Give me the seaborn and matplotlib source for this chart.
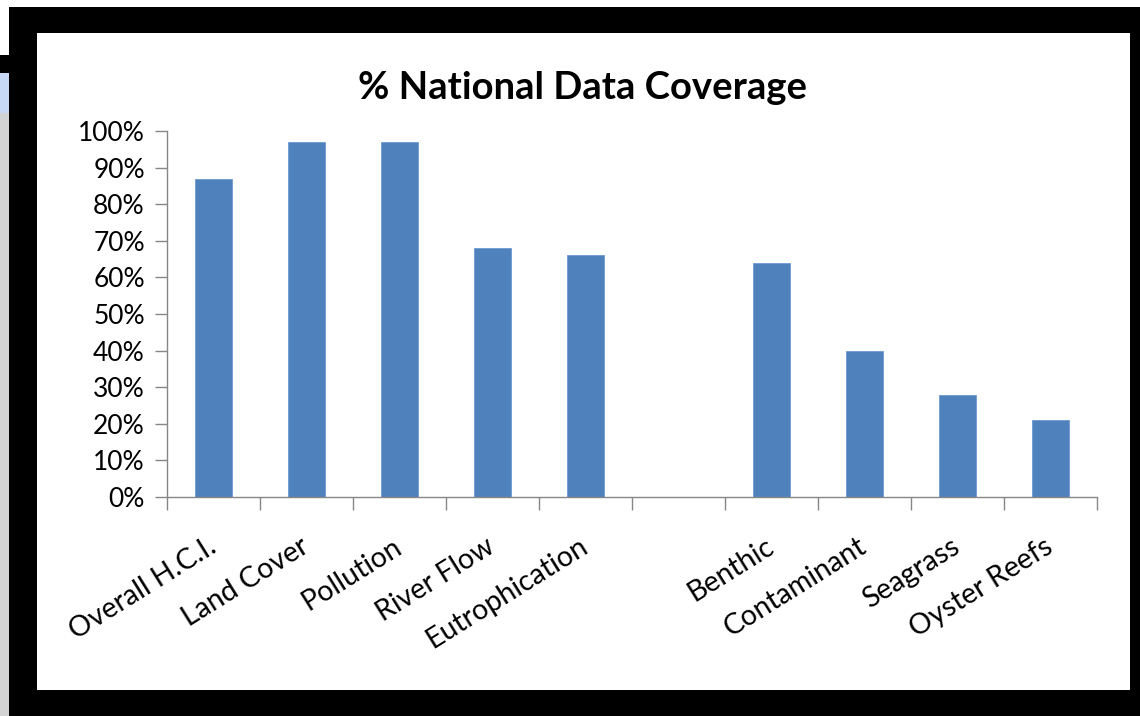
import numpy as np
import pandas as pd
import matplotlib
matplotlib.use("Agg")
import matplotlib.pyplot as plt
from matplotlib.patches import Rectangle
from matplotlib.ticker import PercentFormatter, MultipleLocator, FixedLocator
import seaborn as sns

# data (blank slot between Eutrophication and Benthic)
categories = ["Overall H.C.I.", "Land Cover", "Pollution", "River Flow", "Eutrophication",
              "", "Benthic", "Contaminant", "Seagrass", "Oyster Reefs"]
coverage = [0.87, 0.97, 0.97, 0.68, 0.66, np.nan, 0.64, 0.40, 0.28, 0.21]
title = "% National Data Coverage"

bar_color = "#4F81BD"
axis_gray = "#868686"

sns.set_theme(style="white")
plt.rcParams['font.family'] = ['Lato', 'DejaVu Sans']

W, H = 1140, 716
fig = plt.figure(figsize=(W / 100, H / 100), dpi=100)
fig.patch.set_facecolor("white")


def px_rect(x0, y0, x1, y1, color):
    # rectangle given in pixel coords (top-left origin)
    fig.add_artist(Rectangle((x0 / W, 1 - y1 / H), (x1 - x0) / W, (y1 - y0) / H,
                             transform=fig.transFigure, facecolor=color,
                             edgecolor="none", zorder=-10))


# screenshot frame around the chart
px_rect(0, 73, 9, 113, "#c6d8f5")
px_rect(0, 113, 9, 716, "#d3d3d3")
px_rect(0, 55, 9, 73, "black")
px_rect(9, 7, 1140, 716, "black")
px_rect(37, 33, 1130, 690, "white")

ax = fig.add_axes([167 / W, 1 - 497 / H, (1097 - 167) / W, (497 - 131) / H])
ax.set_facecolor("none")

df = pd.DataFrame({"category": categories, "coverage": coverage})
df["pos"] = range(len(df))
sns.barplot(data=df, x="pos", y="coverage", color=bar_color, width=0.4,
            saturation=1, edgecolor="#6d9ad0", linewidth=0.6, ax=ax)

ax.set_xlim(-0.5, len(categories) - 0.5)
ax.set_ylim(0, 1)
ax.yaxis.set_major_locator(MultipleLocator(0.1))
ax.yaxis.set_major_formatter(PercentFormatter(1.0, decimals=0))

# labels at category centres, tick marks at category boundaries
ax.set_xticks(range(len(categories)))
ax.set_xticklabels(categories, rotation=32, ha="right", va="center",
                   rotation_mode="anchor", fontsize=20.5, color="black")
ax.xaxis.set_minor_locator(FixedLocator(np.arange(-0.5, len(categories), 1)))
ax.tick_params(axis="x", which="major", length=0, pad=34)
ax.tick_params(axis="x", which="minor", length=9, width=1, color=axis_gray, direction="out")
ax.tick_params(axis="y", length=9, width=1, color=axis_gray, direction="out",
               labelsize=19, labelcolor="black", pad=7)
ax.xaxis.set_ticks_position("bottom")
ax.yaxis.set_ticks_position("left")

for side in ["top", "right"]:
    ax.spines[side].set_visible(False)
for side in ["left", "bottom"]:
    ax.spines[side].set_color(axis_gray)
    ax.spines[side].set_linewidth(1)

ax.set_xlabel("")
ax.set_ylabel("")
fig.text(583 / W, 1 - 88 / H, title, ha="center", va="center",
         fontsize=27.5, fontweight="bold", color="black")

fig.savefig("out.png", dpi=100, facecolor=fig.get_facecolor())
